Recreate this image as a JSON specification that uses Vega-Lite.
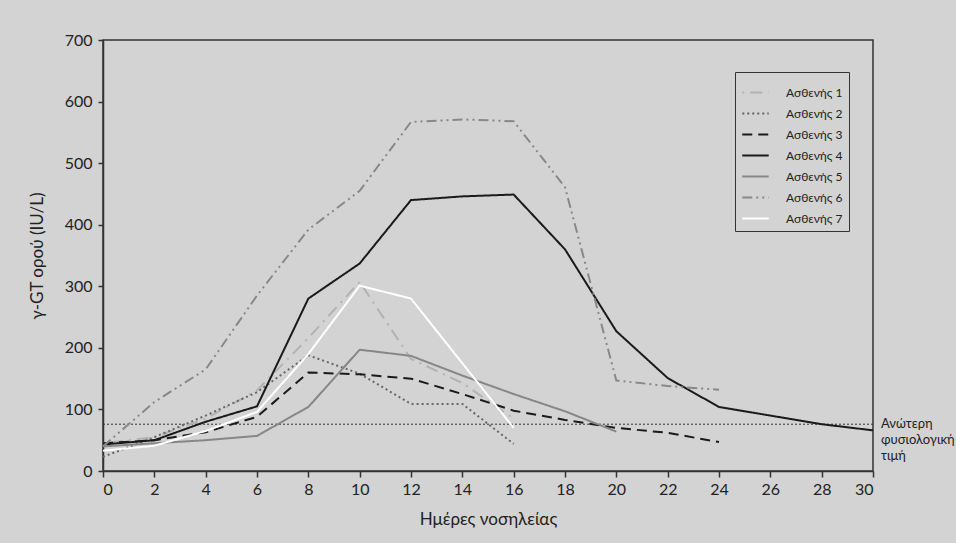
{
  "$schema": "https://vega.github.io/schema/vega-lite/v6.json",
  "autosize": "none",
  "width": 770,
  "height": 431,
  "padding": {"left": 103, "top": 40, "right": 83, "bottom": 72},
  "background": "#d3d3d3",
  "config": {
    "font": "Lato",
    "view": {"stroke": "#333333", "strokeWidth": 1.5},
    "axis": {"domainColor": "#333333", "tickColor": "#333333", "domainWidth": 1.5, "tickWidth": 1.5, "grid": false, "labelColor": "#222222", "titleColor": "#222222", "labelFontSize": 16, "titleFontSize": 17, "titleFontWeight": "normal", "labelFont": "Lato", "titleFont": "Lato"}
  },
  "datasets": {
    "series": [
      {"p": "Ασθενής 1", "d": 0, "v": 45}, {"p": "Ασθενής 1", "d": 2, "v": 55}, {"p": "Ασθενής 1", "d": 4, "v": 85}, {"p": "Ασθενής 1", "d": 6, "v": 131}, {"p": "Ασθενής 1", "d": 8, "v": 216}, {"p": "Ασθενής 1", "d": 10, "v": 307}, {"p": "Ασθενής 1", "d": 12, "v": 182}, {"p": "Ασθενής 1", "d": 14, "v": 143}, {"p": "Ασθενής 1", "d": 16, "v": 85},
      {"p": "Ασθενής 2", "d": 0, "v": 23}, {"p": "Ασθενής 2", "d": 2, "v": 55}, {"p": "Ασθενής 2", "d": 4, "v": 90}, {"p": "Ασθενής 2", "d": 6, "v": 128}, {"p": "Ασθενής 2", "d": 8, "v": 188}, {"p": "Ασθενής 2", "d": 10, "v": 158}, {"p": "Ασθενής 2", "d": 12, "v": 109}, {"p": "Ασθενής 2", "d": 14, "v": 109}, {"p": "Ασθενής 2", "d": 16, "v": 44},
      {"p": "Ασθενής 3", "d": 0, "v": 45}, {"p": "Ασθενής 3", "d": 2, "v": 50}, {"p": "Ασθενής 3", "d": 4, "v": 63}, {"p": "Ασθενής 3", "d": 6, "v": 88}, {"p": "Ασθενής 3", "d": 8, "v": 160}, {"p": "Ασθενής 3", "d": 10, "v": 157}, {"p": "Ασθενής 3", "d": 12, "v": 150}, {"p": "Ασθενής 3", "d": 14, "v": 125}, {"p": "Ασθενής 3", "d": 16, "v": 98}, {"p": "Ασθενής 3", "d": 18, "v": 83}, {"p": "Ασθενής 3", "d": 20, "v": 70}, {"p": "Ασθενής 3", "d": 22, "v": 62}, {"p": "Ασθενής 3", "d": 24, "v": 47},
      {"p": "Ασθενής 4", "d": 0, "v": 43}, {"p": "Ασθενής 4", "d": 2, "v": 50}, {"p": "Ασθενής 4", "d": 4, "v": 80}, {"p": "Ασθενής 4", "d": 6, "v": 105}, {"p": "Ασθενής 4", "d": 8, "v": 280}, {"p": "Ασθενής 4", "d": 10, "v": 337}, {"p": "Ασθενής 4", "d": 12, "v": 440}, {"p": "Ασθενής 4", "d": 14, "v": 446}, {"p": "Ασθενής 4", "d": 16, "v": 449}, {"p": "Ασθενής 4", "d": 18, "v": 360}, {"p": "Ασθενής 4", "d": 20, "v": 227}, {"p": "Ασθενής 4", "d": 22, "v": 151}, {"p": "Ασθενής 4", "d": 24, "v": 104}, {"p": "Ασθενής 4", "d": 26, "v": 90}, {"p": "Ασθενής 4", "d": 28, "v": 76}, {"p": "Ασθενής 4", "d": 30, "v": 66},
      {"p": "Ασθενής 5", "d": 0, "v": 40}, {"p": "Ασθενής 5", "d": 2, "v": 45}, {"p": "Ασθενής 5", "d": 4, "v": 50}, {"p": "Ασθενής 5", "d": 6, "v": 57}, {"p": "Ασθενής 5", "d": 8, "v": 104}, {"p": "Ασθενής 5", "d": 10, "v": 197}, {"p": "Ασθενής 5", "d": 12, "v": 187}, {"p": "Ασθενής 5", "d": 14, "v": 155}, {"p": "Ασθενής 5", "d": 16, "v": 125}, {"p": "Ασθενής 5", "d": 18, "v": 97}, {"p": "Ασθενής 5", "d": 20, "v": 64},
      {"p": "Ασθενής 6", "d": 0, "v": 40}, {"p": "Ασθενής 6", "d": 2, "v": 112}, {"p": "Ασθενής 6", "d": 4, "v": 165}, {"p": "Ασθενής 6", "d": 6, "v": 285}, {"p": "Ασθενής 6", "d": 8, "v": 392}, {"p": "Ασθενής 6", "d": 10, "v": 455}, {"p": "Ασθενής 6", "d": 12, "v": 567}, {"p": "Ασθενής 6", "d": 14, "v": 571}, {"p": "Ασθενής 6", "d": 16, "v": 568}, {"p": "Ασθενής 6", "d": 18, "v": 461}, {"p": "Ασθενής 6", "d": 20, "v": 147}, {"p": "Ασθενής 6", "d": 22, "v": 138}, {"p": "Ασθενής 6", "d": 24, "v": 132},
      {"p": "Ασθενής 7", "d": 0, "v": 33}, {"p": "Ασθενής 7", "d": 2, "v": 41}, {"p": "Ασθενής 7", "d": 4, "v": 65}, {"p": "Ασθενής 7", "d": 6, "v": 96}, {"p": "Ασθενής 7", "d": 8, "v": 190}, {"p": "Ασθενής 7", "d": 10, "v": 301}, {"p": "Ασθενής 7", "d": 12, "v": 280}, {"p": "Ασθενής 7", "d": 14, "v": 175}, {"p": "Ασθενής 7", "d": 16, "v": 70}
    ],
    "ref": [{"d": 30, "v": 76, "label": ["Ανώτερη", "φυσιολογική", "τιμή"]}]
  },
  "layer": [
    {
      "data": {"name": "ref"},
      "mark": {"type": "rule", "stroke": "#333333", "strokeWidth": 1, "strokeDash": [2, 2]},
      "encoding": {"y": {"field": "v", "type": "quantitative"}}
    },
    {
      "data": {"name": "series"},
      "mark": {"type": "line", "strokeWidth": 2},
      "encoding": {
        "x": {"field": "d", "type": "quantitative", "scale": {"domain": [0, 30], "nice": false}, "axis": {"values": [0, 2, 4, 6, 8, 10, 12, 14, 16, 18, 20, 22, 24, 26, 28, 30], "title": "Ημέρες νοσηλείας", "tickSize": 6, "labelPadding": 4, "titlePadding": 14}},
        "y": {"field": "v", "type": "quantitative", "scale": {"domain": [0, 700], "nice": false}, "axis": {"values": [0, 100, 200, 300, 400, 500, 600, 700], "title": "γ-GT ορού (IU/L)", "tickSize": 5, "labelPadding": 6, "titlePadding": 18}},
        "color": {
          "field": "p", "type": "nominal", "title": null,
          "scale": {"domain": ["Ασθενής 1", "Ασθενής 2", "Ασθενής 3", "Ασθενής 4", "Ασθενής 5", "Ασθενής 6", "Ασθενής 7"], "range": ["#b2b2b2", "#666666", "#1a1a1a", "#1a1a1a", "#878787", "#888888", "#ffffff"]},
          "legend": {"orient": "none", "legendX": 632, "legendY": 32, "symbolType": "stroke", "symbolSize": 700, "symbolStrokeWidth": 2, "labelFontSize": 12, "labelFont": "Lato", "labelColor": "#222222", "strokeColor": "#333333", "padding": 6, "rowPadding": -13, "labelOffset": 16}
        },
        "strokeDash": {
          "field": "p", "type": "nominal", "title": null,
          "scale": {"domain": ["Ασθενής 1", "Ασθενής 2", "Ασθενής 3", "Ασθενής 4", "Ασθενής 5", "Ασθενής 6", "Ασθενής 7"], "range": [[2, 6, 12, 6], [2, 3], [10, 6], [1, 0], [1, 0], [10, 4, 2, 4, 2, 4], [1, 0]]}
        }
      }
    },
    {
      "data": {"name": "ref"},
      "mark": {"type": "text", "align": "left", "baseline": "middle", "dx": 8, "fontSize": 13, "font": "Lato", "color": "#222222", "lineHeight": 16},
      "encoding": {
        "x": {"field": "d", "type": "quantitative"},
        "y": {"field": "v", "type": "quantitative"},
        "text": {"field": "label"}
      }
    }
  ]
}
